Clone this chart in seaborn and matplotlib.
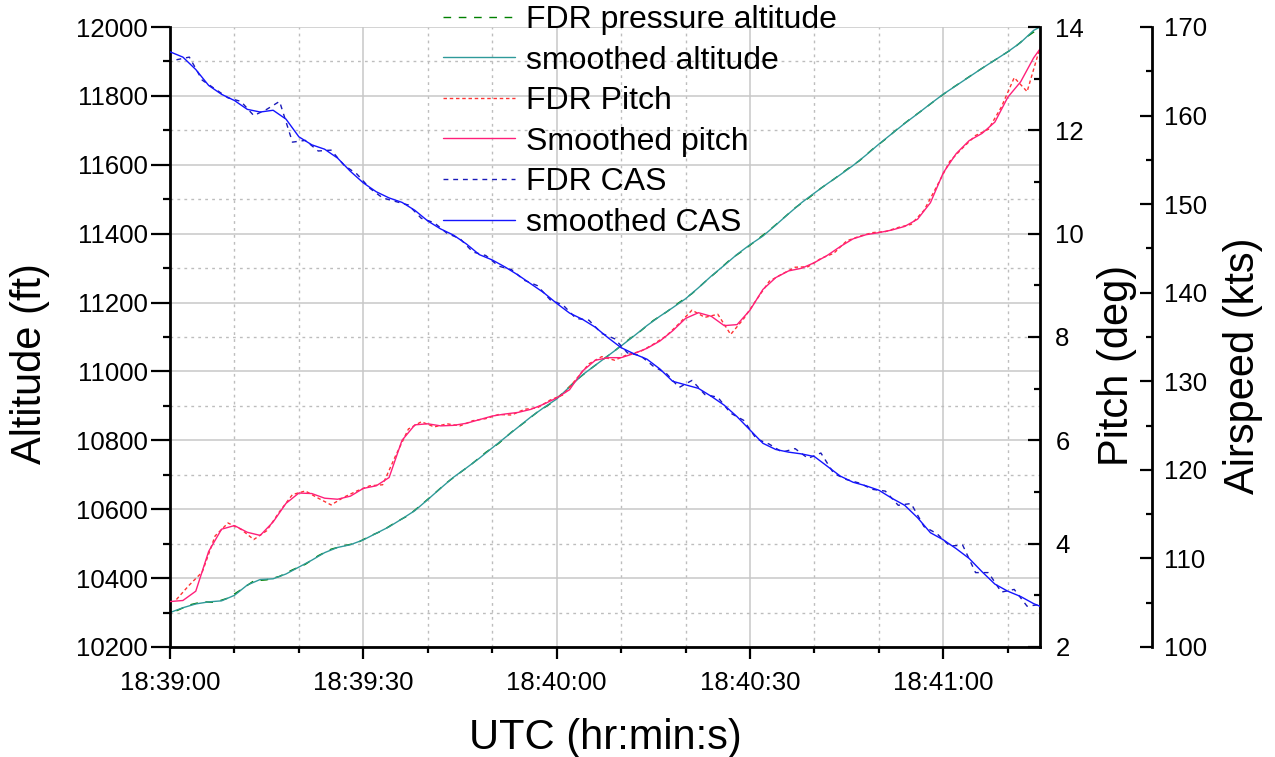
import numpy as np
import matplotlib
matplotlib.use("Agg")
import matplotlib.pyplot as plt
import seaborn as sns
from matplotlib.ticker import MultipleLocator

# Sample times in seconds after 18:39:00 UTC
smooth_sec = np.arange(0, 137, 2)
fdr_sec = np.arange(1, 136, 2)

# Smoothed traces (every 2 s)
alt_smooth = [10300, 10314, 10325, 10331, 10334, 10350, 10380, 10396, 10398, 10412,
              10432, 10452, 10474, 10489, 10497, 10511, 10530, 10549, 10572, 10596,
              10628, 10661, 10693, 10720, 10748, 10778, 10808, 10838, 10868, 10895,
              10920, 10955, 10990, 11018, 11046, 11074, 11103, 11133, 11160, 11185,
              11211, 11243, 11277, 11308, 11340, 11368, 11393, 11425, 11458, 11490,
              11518, 11545, 11571, 11598, 11628, 11660, 11690, 11720, 11748, 11777,
              11805, 11830, 11855, 11880, 11904, 11928, 11955, 11990, 12010]
pitch_smooth = [2.88, 2.90, 3.08, 3.85, 4.28, 4.35, 4.22, 4.16, 4.42, 4.78,
                4.98, 4.97, 4.88, 4.86, 4.92, 5.07, 5.12, 5.28, 6.00, 6.30,
                6.32, 6.28, 6.29, 6.33, 6.40, 6.47, 6.51, 6.54, 6.60, 6.70,
                6.82, 6.98, 7.34, 7.55, 7.60, 7.60, 7.68, 7.78, 7.92, 8.12,
                8.36, 8.47, 8.40, 8.22, 8.24, 8.52, 8.92, 9.15, 9.28, 9.33,
                9.44, 9.58, 9.75, 9.90, 9.98, 10.02, 10.07, 10.14, 10.28, 10.60,
                11.18, 11.55, 11.80, 11.94, 12.16, 12.64, 12.94, 13.40, 13.75]
cas_smooth = [167.2, 166.6, 165.2, 163.4, 162.4, 161.7, 160.7, 160.4, 160.6, 159.6,
              157.6, 156.7, 156.2, 155.2, 153.7, 152.4, 151.4, 150.7, 150.2, 149.3,
              148.1, 147.2, 146.5, 145.5, 144.3, 143.7, 142.9, 142.0, 141.0, 140.0,
              138.8, 137.7, 137.0, 136.1, 134.9, 133.8, 133.1, 132.5, 131.4, 130.0,
              129.6, 129.2, 128.3, 127.3, 126.0, 124.5, 123.0, 122.3, 122.0, 121.8,
              121.5, 120.4, 119.3, 118.6, 118.2, 117.7, 116.8, 116.0, 114.6, 112.9,
              112.1, 111.1, 110.0, 108.5, 107.1, 106.3, 105.7, 104.9, 104.3]

# Raw flight data recorder samples (odd seconds)
alt_fdr = [10305, 10322, 10331, 10330, 10342, 10366, 10392, 10395, 10405, 10424,
           10440, 10465, 10484, 10494, 10502, 10522, 10538, 10562, 10582, 10613,
           10645, 10678, 10706, 10734, 10765, 10791, 10824, 10852, 10882, 10906,
           10938, 10974, 11004, 11032, 11060, 11090, 11117, 11148, 11172, 11200,
           11226, 11260, 11292, 11326, 11352, 11381, 11410, 11442, 11475, 11502,
           11532, 11558, 11586, 11612, 11645, 11674, 11706, 11735, 11762, 11791,
           11818, 11843, 11868, 11892, 11916, 11940, 11972, 11998]
pitch_fdr = [2.92, 3.20, 3.45, 4.15, 4.40, 4.28, 4.08, 4.25, 4.62, 4.95,
             5.02, 4.88, 4.75, 4.90, 5.02, 5.12, 5.14, 5.70, 6.22, 6.36,
             6.26, 6.32, 6.28, 6.38, 6.42, 6.50, 6.49, 6.60, 6.63, 6.78,
             6.88, 7.18, 7.48, 7.62, 7.55, 7.66, 7.72, 7.86, 8.02, 8.26,
             8.52, 8.38, 8.44, 8.05, 8.35, 8.72, 9.08, 9.22, 9.35, 9.36,
             9.52, 9.62, 9.86, 9.95, 10.02, 10.04, 10.12, 10.18, 10.45, 10.92,
             11.40, 11.66, 11.90, 12.02, 12.45, 13.02, 12.75, 13.60]
cas_fdr = [166.3, 166.6, 164.0, 163.0, 162.0, 161.6, 160.0, 160.7, 161.6, 157.0,
           157.2, 156.0, 156.1, 154.4, 153.4, 151.8, 150.7, 150.3, 149.9, 148.4,
           147.9, 146.7, 146.1, 144.6, 144.2, 143.0, 142.6, 141.4, 140.8, 139.2,
           138.6, 137.1, 136.9, 135.4, 134.8, 133.2, 132.9, 131.7, 130.9, 129.3,
           130.1, 128.5, 128.2, 126.4, 125.6, 123.5, 122.9, 122.0, 122.4, 121.3,
           121.9, 119.6, 118.9, 118.5, 117.8, 117.6, 116.0, 116.2, 113.6, 112.8,
           111.4, 111.5, 108.4, 108.4, 106.2, 106.5, 104.6, 104.8]

time_ticks = [0, 30, 60, 90, 120]
time_labels = ["18:39:00", "18:39:30", "18:40:00", "18:40:30", "18:41:00"]

sns.set_style("white")
plt.rcParams["font.family"] = ["Liberation Sans", "DejaVu Sans"]
plt.rcParams.update({"text.color": "black", "axes.labelcolor": "black",
                     "xtick.color": "black", "ytick.color": "black"})

fig = plt.figure(figsize=(12.75, 7.57), dpi=100)
ax = fig.add_axes([170 / 1275, 1 - 647 / 757, 870 / 1275, 620 / 757])
ax2 = ax.twinx()
ax3 = ax.twinx()

common = dict(errorbar=None, legend=False, linewidth=1.0)
sns.lineplot(x=fdr_sec, y=alt_fdr, ax=ax, color="#008000",
             linestyle=(0, (5.5, 5.5)), label="FDR pressure altitude", **common)
sns.lineplot(x=smooth_sec, y=alt_smooth, ax=ax, color="#2F9A9A",
             label="smoothed altitude", **common)
sns.lineplot(x=fdr_sec, y=pitch_fdr, ax=ax2, color="#FF3333",
             linestyle=(0, (2.5, 2.0)), label="FDR Pitch", **common)
sns.lineplot(x=smooth_sec, y=pitch_smooth, ax=ax2, color="#FF1F7A",
             label="Smoothed pitch", **common)
sns.lineplot(x=fdr_sec, y=cas_fdr, ax=ax3, color="#1A1AB8",
             linestyle=(0, (3.5, 3.5)), label="FDR CAS", **common)
sns.lineplot(x=smooth_sec, y=cas_smooth, ax=ax3, color="#1414FF",
             label="smoothed CAS", **common)

# Axis ranges
ax.set_xlim(0, 135)
ax.set_ylim(10200, 12000)
ax2.set_ylim(2, 14)
ax3.set_ylim(100, 170)

# Grid from the altitude axis
ax.set_axisbelow(True)
ax.set_xticks(time_ticks)
ax.set_xticklabels(time_labels)
ax.xaxis.set_minor_locator(MultipleLocator(10))
ax.yaxis.set_major_locator(MultipleLocator(200))
ax.yaxis.set_minor_locator(MultipleLocator(100))
ax.grid(which="major", color="#c8c8c8", linewidth=1.1, linestyle="-")
ax.grid(which="minor", color="#bdbdbd", linewidth=1.0, linestyle=(0, (2, 3)))

ax2.yaxis.set_major_locator(MultipleLocator(2))
ax2.yaxis.set_minor_locator(MultipleLocator(1))
ax3.yaxis.set_major_locator(MultipleLocator(10))
ax3.yaxis.set_minor_locator(MultipleLocator(5))
ax2.grid(False)
ax3.grid(False)

# Spines
for s in ["top", "right"]:
    ax.spines[s].set_visible(False)
for s in ["left", "bottom"]:
    ax.spines[s].set_linewidth(2.0)
    ax.spines[s].set_color("black")
for a in (ax2, ax3):
    for s in ["top", "left", "bottom"]:
        a.spines[s].set_visible(False)
    a.spines["right"].set_linewidth(2.0)
    a.spines["right"].set_color("black")
ax3.spines["right"].set_position(("axes", (1152 - 170) / 870))

# Ticks
ax.tick_params(axis="y", which="major", direction="out", length=14, width=1.6,
               labelsize=18.5, pad=2, left=True)
ax.tick_params(axis="y", which="minor", direction="out", length=5, width=1.6, left=True)
ax.tick_params(axis="x", which="major", direction="out", length=8.5, width=1.6,
               labelsize=18.5, pad=9, bottom=True)
ax.tick_params(axis="x", which="minor", direction="out", length=4, width=1.6, bottom=True)
for a, p in ((ax2, 11), (ax3, 9)):
    a.tick_params(axis="y", which="major", direction="in", length=8.5, width=1.6,
                  labelsize=18.5, pad=p, right=True)
    a.tick_params(axis="y", which="minor", direction="in", length=4.5, width=1.6, right=True)

# Axis titles
ax.set_xlabel("UTC (hr:min:s)", fontsize=30)
ax.xaxis.set_label_coords(0.5, (647 - 718) / 620)
ax.set_ylabel("Altitude (ft)", fontsize=30)
ax.yaxis.set_label_coords((50 - 170) / 870, (647 - 364) / 620)
ax2.set_ylabel("Pitch (deg)", fontsize=30)
ax2.yaxis.set_label_coords((1097 - 170) / 870, (647 - 365) / 620)
ax3.set_ylabel("Airspeed (kts)", fontsize=30)
ax3.yaxis.set_label_coords((1223 - 170) / 870, (647 - 366) / 620)

# Combined legend
handles, labels = [], []
for a in (ax, ax2, ax3):
    h, l = a.get_legend_handles_labels()
    handles += h
    labels += l
fig.legend(handles, labels, loc="upper left",
           bbox_to_anchor=(443 / 1275, 1 - 5 / 757), bbox_transform=fig.transFigure,
           frameon=False, fontsize=23, handlelength=2.26, handletextpad=0.34,
           labelspacing=0.33, borderpad=0, borderaxespad=0)

fig.savefig("out.png", dpi=100)
